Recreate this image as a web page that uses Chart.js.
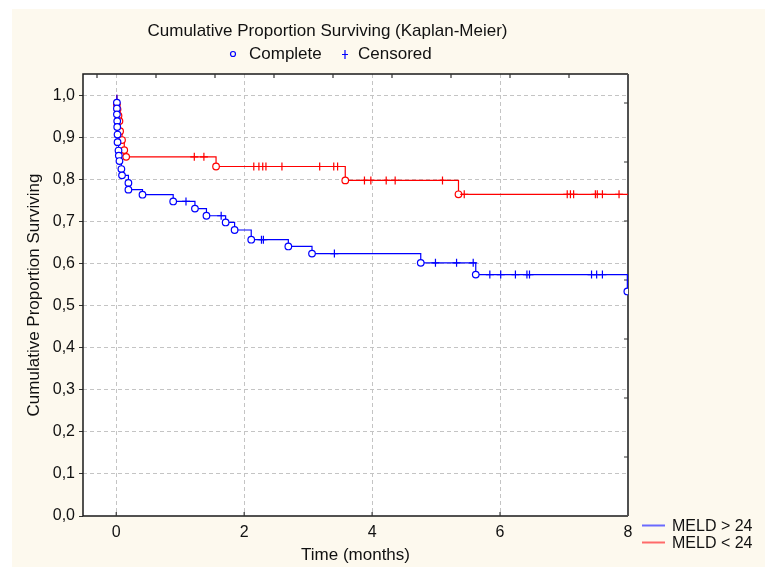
<!DOCTYPE html>
<html>
<head>
<meta charset="utf-8">
<title>Cumulative Proportion Surviving (Kaplan-Meier)</title>
<script src="https://cdn.jsdelivr.net/npm/chart.js@4.4.1/dist/chart.umd.min.js"></script>
<style>
  html, body { margin: 0; padding: 0; background: #ffffff; }
  #wrap { position: relative; width: 765px; height: 567px; }
</style>
</head>
<body>
<div id="wrap"><canvas id="kmChart" width="765" height="567"></canvas></div>
<script>
// Tick labels
const xTicks = [0, 2, 4, 6, 8];
const yTicks = [0, 0.1, 0.2, 0.3, 0.4, 0.5, 0.6, 0.7, 0.8, 0.9, 1.0];

// MELD > 24 (blue) - time in months, survival, mark: 'o' complete, '+' censored, '' none
const blueTime = [0, 0.01, 0.01, 0.01, 0.015, 0.015, 0.02, 0.02, 0.035, 0.04, 0.05, 0.08, 0.09, 0.19, 0.19, 0.41,
  0.89, 1.09, 1.23, 1.41, 1.64, 1.71, 1.85, 2.11, 2.27, 2.30, 2.69, 3.06, 3.41,
  4.76, 4.99, 5.32, 5.58, 5.62, 5.84, 6.01, 6.24, 6.42, 6.46, 7.43, 7.51, 7.60, 7.99];
const blueSurv = [1.0, 0.983, 0.969, 0.955, 0.939, 0.925, 0.907, 0.889, 0.869, 0.857, 0.844, 0.825, 0.810, 0.792, 0.776, 0.764,
  0.748, 0.748, 0.731, 0.714, 0.714, 0.698, 0.680, 0.657, 0.657, 0.657, 0.641, 0.624, 0.624,
  0.602, 0.602, 0.602, 0.602, 0.574, 0.574, 0.574, 0.574, 0.574, 0.574, 0.574, 0.574, 0.574, 0.534];
const blueMark = ['', 'o', 'o', 'o', 'o', 'o', 'o', 'o', 'o', 'o', 'o', 'o', 'o', 'o', 'o', 'o',
  'o', '+', 'o', 'o', '+', 'o', 'o', 'o', '+', '+', 'o', 'o', '+',
  'o', '+', '+', '+', 'o', '+', '+', '+', '+', '+', '+', '+', '+', 'o'];

// MELD < 24 (red)
const redTime = [0, 0.01, 0.02, 0.035, 0.05, 0.06, 0.09, 0.125, 0.155,
  1.22, 1.37, 1.56, 2.15, 2.23, 2.29, 2.34, 2.59, 3.18, 3.40, 3.46,
  3.58, 3.88, 3.98, 4.22, 4.36, 5.10, 5.35, 5.44,
  7.05, 7.10, 7.15, 7.49, 7.52, 7.60, 7.86, 8.0];
const redSurv = [1.0, 0.979, 0.967, 0.952, 0.939, 0.915, 0.894, 0.870, 0.854,
  0.854, 0.854, 0.831, 0.831, 0.831, 0.831, 0.831, 0.831, 0.831, 0.831, 0.831,
  0.798, 0.798, 0.798, 0.798, 0.798, 0.798, 0.765, 0.765,
  0.765, 0.765, 0.765, 0.765, 0.765, 0.765, 0.765, 0.765];
const redMark = ['', 'o', 'o', 'o', 'o', 'o', 'o', 'o', 'o',
  '+', '+', 'o', '+', '+', '+', '+', '+', '+', '+', '+',
  'o', '+', '+', '+', '+', '+', 'o', '+',
  '+', '+', '+', '+', '+', '+', '+', ''];

const fontFamily = '"Liberation Sans", Arial, Helvetica, sans-serif';
const textColor = '#111111';
const cream = '#fdf9ee';
const gridColor = '#c4c4c4';
const frameTickStep = 59;

function kmSeries(label, times, surv, marks, color) {
  return {
    label: label,
    data: times.map((t, i) => ({ x: t, y: surv[i] })),
    borderColor: color,
    borderWidth: 1.2,
    stepped: 'before',
    fill: false,
    pointStyle: ctx => marks[ctx.dataIndex] === '+' ? 'cross' : 'circle',
    pointRadius: ctx => {
      const m = marks[ctx.dataIndex];
      return m === 'o' ? 3.3 : (m === '+' ? 4 : 0);
    },
    pointBackgroundColor: '#ffffff',
    pointBorderColor: color,
    pointBorderWidth: 1.2
  };
}

// Background, frame, inner ticks, title and legends
const framePlugin = {
  id: 'frame',
  beforeDraw(chart) {
    const { ctx, chartArea: a } = chart;
    ctx.save();
    ctx.fillStyle = '#ffffff';
    ctx.fillRect(0, 0, chart.width, chart.height);
    ctx.fillStyle = cream;
    ctx.fillRect(12, 9, chart.width - 12, chart.height - 9);
    ctx.fillStyle = '#ffffff';
    ctx.fillRect(a.left, a.top, a.right - a.left, a.bottom - a.top);
    ctx.restore();
  },
  beforeDatasetsDraw(chart) {
    const { ctx, chartArea: a, scales } = chart;
    ctx.save();
    ctx.lineWidth = 1.5;
    ctx.strokeStyle = '#1a1a1a';
    ctx.beginPath();
    ctx.moveTo(a.right, a.top);
    ctx.lineTo(a.left, a.top);
    ctx.lineTo(a.left, a.bottom);
    ctx.lineTo(a.right, a.bottom);
    ctx.stroke();
    ctx.strokeStyle = '#505050';
    ctx.lineWidth = 2;
    ctx.beginPath();
    ctx.moveTo(a.right, a.top);
    ctx.lineTo(a.right, a.bottom);
    ctx.stroke();

    // inner tick marks
    ctx.lineWidth = 1.2;
    ctx.strokeStyle = '#333333';
    ctx.beginPath();
    xTicks.forEach(v => {
      const px = scales.x.getPixelForValue(v);
      if (px > a.left + 2 && px < a.right - 2) {
        ctx.moveTo(px, a.bottom);
        ctx.lineTo(px, a.bottom - 4);
      }
    });
    for (let px = a.right - frameTickStep; px > a.left + 5; px -= frameTickStep) {
      ctx.moveTo(px, a.top);
      ctx.lineTo(px, a.top + 4);
    }
    for (let py = a.bottom - frameTickStep; py > a.top + 5; py -= frameTickStep) {
      ctx.moveTo(a.right, py);
      ctx.lineTo(a.right - 4, py);
    }
    ctx.stroke();
    ctx.restore();
  },
  afterDraw(chart) {
    const { ctx } = chart;
    ctx.save();
    ctx.font = '17px ' + fontFamily;
    ctx.fillStyle = textColor;
    ctx.textBaseline = 'middle';
    ctx.textAlign = 'center';
    ctx.fillText('Cumulative Proportion Surviving (Kaplan-Meier)', 327.5, 31);

    // marker legend
    ctx.textAlign = 'left';
    ctx.strokeStyle = '#0000ff';
    ctx.lineWidth = 1.2;
    ctx.beginPath();
    ctx.arc(233, 54, 2.5, 0, Math.PI * 2);
    ctx.stroke();
    ctx.fillText('Complete', 249, 54);
    ctx.beginPath();
    ctx.moveTo(345, 50);
    ctx.lineTo(345, 59);
    ctx.moveTo(342, 54.5);
    ctx.lineTo(348, 54.5);
    ctx.stroke();
    ctx.fillText('Censored', 358, 54);

    // series legend
    ctx.font = '16px ' + fontFamily;
    const series = [['MELD > 24', '#6a6aff', 525.5], ['MELD < 24', '#ff6a6a', 542.5]];
    series.forEach(([label, color, y]) => {
      ctx.strokeStyle = color;
      ctx.lineWidth = 2;
      ctx.beginPath();
      ctx.moveTo(642, y);
      ctx.lineTo(665, y);
      ctx.stroke();
      ctx.fillStyle = textColor;
      ctx.fillText(label, 672, y + 1);
    });
    ctx.restore();
  }
};

const tickFont = { family: fontFamily, size: 16 };
const titleFont = { family: fontFamily, size: 17 };

new Chart(document.getElementById('kmChart'), {
  type: 'line',
  data: {
    datasets: [
      kmSeries('MELD > 24', blueTime, blueSurv, blueMark, '#0000ff'),
      kmSeries('MELD < 24', redTime, redSurv, redMark, '#ff0000')
    ]
  },
  options: {
    responsive: false,
    animation: false,
    events: [],
    layout: { padding: { left: 0, top: 74, right: 137, bottom: 0 } },
    plugins: {
      legend: { display: false },
      tooltip: { enabled: false },
      title: { display: false }
    },
    scales: {
      x: {
        type: 'linear',
        min: -0.52,
        max: 8,
        afterBuildTicks: s => { s.ticks = xTicks.map(v => ({ value: v })); },
        afterFit: s => { s.height = 51; },
        ticks: { font: tickFont, color: textColor, padding: 7, maxRotation: 0, autoSkip: false },
        grid: {
          color: c => (c.tick && c.tick.value === 8) ? 'rgba(0,0,0,0)' : gridColor,
          lineWidth: 1,
          drawTicks: false
        },
        border: { display: false, dash: [4, 3] },
        title: {
          display: true,
          text: 'Time (months)',
          font: titleFont,
          color: textColor,
          padding: { top: 0, bottom: 1.8 }
        }
      },
      y: {
        type: 'linear',
        min: 0,
        max: 1.051,
        afterBuildTicks: s => { s.ticks = yTicks.map(v => ({ value: v })); },
        afterFit: s => { s.width = 83; },
        ticks: {
          font: tickFont,
          color: textColor,
          padding: 4,
          callback: v => v.toFixed(1).replace('.', ',')
        },
        grid: {
          color: c => (c.tick && c.tick.value === 0) ? 'rgba(0,0,0,0)' : gridColor,
          lineWidth: 1,
          drawTicks: true,
          tickLength: 4,
          tickColor: '#333333'
        },
        border: { display: false, dash: [4, 3] },
        title: {
          display: true,
          text: 'Cumulative Proportion Surviving',
          font: titleFont,
          color: textColor,
          padding: { top: 24.5, bottom: 0 }
        }
      }
    }
  },
  plugins: [framePlugin]
});
</script>
</body>
</html>
